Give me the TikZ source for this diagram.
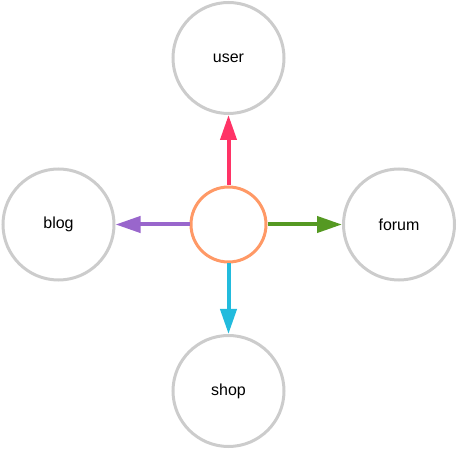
\documentclass[tikz,border=0pt]{standalone}
\usepackage{fontspec}
\setmainfont{Liberation Sans}
\usetikzlibrary{arrows.meta}
\definecolor{cgray}{HTML}{CCCCCC}
\definecolor{corange}{HTML}{FF9966}
\definecolor{cpink}{HTML}{FF3366}
\definecolor{cpurple}{HTML}{9966CC}
\definecolor{ccyan}{HTML}{22BBDD}
\definecolor{cgreen}{HTML}{559922}
\begin{document}
\begin{tikzpicture}[x=1pt,y=1pt,
  outer/.style={circle,draw=cgray,line width=3pt,minimum size=111pt,inner sep=0pt,font=\fontsize{16}{18}\selectfont},
  hub/.style={circle,draw=corange,line width=3pt,minimum size=75pt,inner sep=0pt},
  link/.style={line width=4pt,-{Triangle[width=16pt,length=25pt]}}]
\useasboundingbox (0,0) rectangle (458,450);
\node[hub] (c) at (228.5,225.5) {};
\node[outer] (user) at (228.5,392) {user};
\node[outer] (blog) at (58.5,225.5) {blog};
\node[outer] (forum) at (399,225.5) {forum};
\node[outer] (shop) at (228.5,59) {shop};
\draw[link,cpink] (c) -- (user);
\draw[link,cpurple] (c) -- (blog);
\draw[link,cgreen] (c) -- (forum);
\draw[link,ccyan] (c) -- (shop);
\end{tikzpicture}
\end{document}
